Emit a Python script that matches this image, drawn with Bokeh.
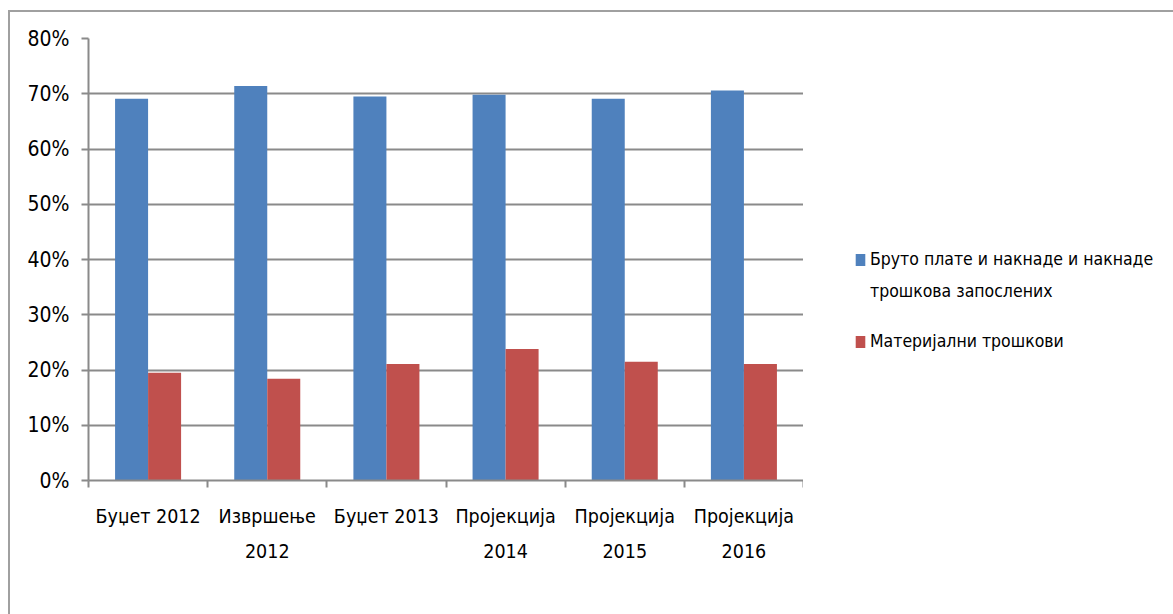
from bokeh.plotting import figure
from bokeh.layouts import row
from bokeh.models import ColumnDataSource, FixedTicker, Legend, LegendItem, NumeralTickFormatter
from bokeh.embed import file_html
from bokeh.resources import INLINE

categories = ["Буџет 2012", "Извршење\n2012", "Буџет 2013", "Пројекција\n2014", "Пројекција\n2015", "Пројекција\n2016"]
series_line1 = "Бруто плате и накнаде и накнаде"
series_line2 = "трошкова запослених"
series_red = "Материјални трошкови"
gross_salaries = [69.1, 71.4, 69.5, 69.8, 69.1, 70.6]
material_costs = [19.5, 18.4, 21.1, 23.8, 21.5, 21.1]
y_ticks = [0, 10, 20, 30, 40, 50, 60, 70, 80]

FONT = "'DejaVu Sans Condensed', 'Liberation Sans', sans-serif"
BLUE = "#4F81BD"
RED = "#C0504D"
GRID = "#8a8a8a"

n = len(categories)
centers = [i + 0.5 for i in range(n)]
bw = 0.277

src = ColumnDataSource(dict(
    xb=[c - bw / 2 for c in centers],
    xr=[c + bw / 2 for c in centers],
    b=[v / 100 for v in gross_salaries],
    r=[v / 100 for v in material_costs],
))

p = figure(width=793, height=602, x_range=(0, n), y_range=(0, 0.8),
           output_backend="svg", toolbar_location=None,
           min_border_left=78, min_border_top=26, min_border_right=0, min_border_bottom=134)

p.vbar(x="xb", top="b", width=bw, bottom=0, source=src, fill_color=BLUE, line_color=None)
p.vbar(x="xr", top="r", width=bw, bottom=0, source=src, fill_color=RED, line_color=None)

p.outline_line_color = None
p.background_fill_color = "white"
p.border_fill_color = "white"

# x axis
p.xaxis.ticker = FixedTicker(ticks=centers, minor_ticks=list(range(n + 1)))
p.xaxis.major_label_overrides = {c: lab for c, lab in zip(centers, categories)}
p.xaxis.major_tick_out = 0
p.xaxis.major_tick_in = 0
p.xaxis.minor_tick_out = 7
p.xaxis.minor_tick_in = 0
p.xaxis.minor_tick_line_color = GRID
p.xaxis.minor_tick_line_width = 2
p.xaxis.axis_line_color = GRID
p.xaxis.axis_line_width = 2
p.xaxis.major_label_text_font = FONT
p.xaxis.major_label_text_font_size = "19.5px"
p.xaxis.major_label_text_color = "black"
p.xaxis.major_label_standoff = 17
p.xaxis.major_label_text_line_height = 1.55
p.xgrid.grid_line_color = None

# y axis
p.yaxis.ticker = FixedTicker(ticks=[t / 100 for t in y_ticks])
p.yaxis.formatter = NumeralTickFormatter(format="0%")
p.yaxis.major_tick_out = 7
p.yaxis.major_tick_in = 0
p.yaxis.minor_tick_line_color = None
p.yaxis.major_tick_line_color = GRID
p.yaxis.major_tick_line_width = 2
p.yaxis.axis_line_color = GRID
p.yaxis.axis_line_width = 2
p.yaxis.major_label_text_font = FONT
p.yaxis.major_label_text_font_size = "21px"
p.yaxis.major_label_text_color = "black"
p.yaxis.major_label_standoff = 12
p.ygrid.grid_line_color = GRID
p.ygrid.grid_line_width = 2

# legend panel (its frame is aligned with the chart's frame by the row layout)
lg = figure(width=370, height=602, x_range=(0, 1), y_range=(0, 1),
            output_backend="svg", toolbar_location=None,
            min_border_left=0, min_border_right=0, min_border_top=26, min_border_bottom=134)
lg.axis.visible = False
lg.grid.visible = False
lg.outline_line_color = None
lg.background_fill_color = "white"
lg.border_fill_color = "white"

off = dict(x=[5], top=[5])  # outside the visible range: only the legend swatches show
r_blue = lg.vbar(x=off["x"], top=off["top"], width=0.1, fill_color=BLUE, line_color=None)
r_none = lg.vbar(x=off["x"], top=off["top"], width=0.1, fill_alpha=0, line_alpha=0)
r_red = lg.vbar(x=off["x"], top=off["top"], width=0.1, fill_color=RED, line_color=None)


def style(leg):
    leg.border_line_color = None
    leg.background_fill_alpha = 0
    leg.label_text_font = FONT
    leg.label_text_font_size = "17.5px"
    leg.label_text_color = "black"
    leg.glyph_width = 12
    leg.glyph_height = 15
    leg.label_height = 22
    leg.label_standoff = 4
    leg.spacing = 10
    leg.padding = 0
    leg.margin = 0


leg_a = Legend(items=[LegendItem(label=series_line1, renderers=[r_blue]),
                      LegendItem(label=series_line2, renderers=[r_none])],
               location=(51, 178))
leg_b = Legend(items=[LegendItem(label=series_red, renderers=[r_red])],
               location=(51, 128))
style(leg_a)
style(leg_b)
lg.add_layout(leg_a, "center")
lg.add_layout(leg_b, "center")

layout = row(p, lg, styles={"border-top": "2px solid #a0a0a0", "border-left": "2px solid #a0a0a0",
                            "margin-left": "8px", "margin-top": "10px"})

open("out.html", "w").write(file_html(layout, INLINE))
